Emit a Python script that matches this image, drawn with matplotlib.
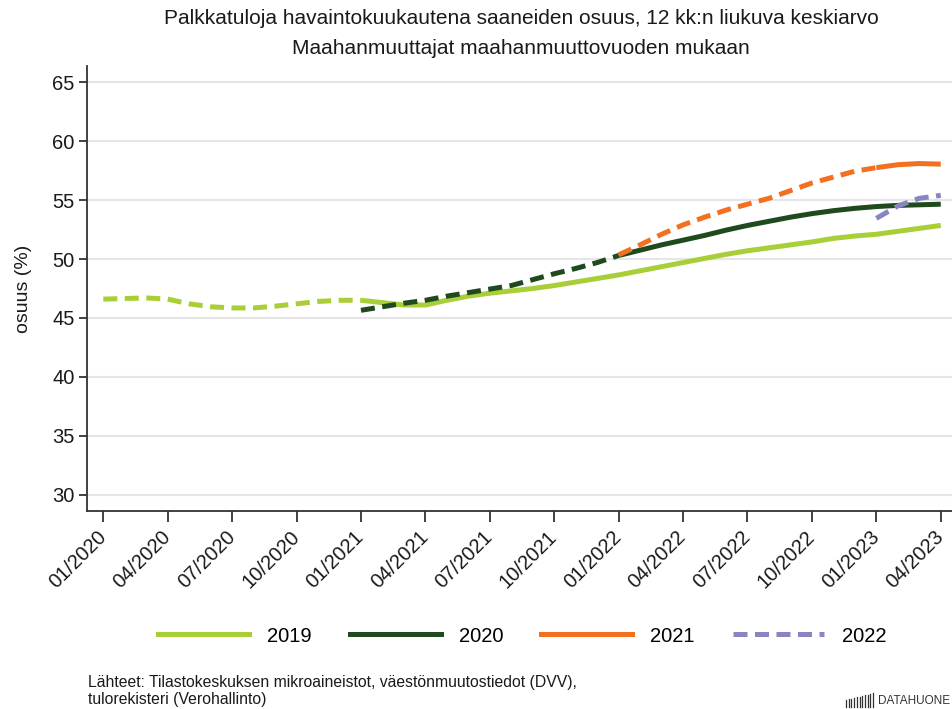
import numpy as np
import matplotlib
matplotlib.use("Agg")
import matplotlib.pyplot as plt
from matplotlib.lines import Line2D

plt.rcParams['font.family'] = ['Liberation Sans', 'DejaVu Sans']

# ---------------- data ----------------
months = [f"{m:02d}/{y}" for y in (2020, 2021, 2022, 2023) for m in range(1, 13)][:40]
tick_labels = months[::3]

N = None
s2019 = [46.6, 46.65, 46.7, 46.6, 46.2, 45.95, 45.85, 45.85, 46.0, 46.2, 46.4, 46.5,
         46.5, 46.3, 46.1, 46.1, 46.5, 46.85, 47.1, 47.3, 47.5, 47.75, 48.05, 48.35,
         48.65, 49.0, 49.35, 49.7, 50.05, 50.4, 50.7, 50.95, 51.2, 51.45, 51.75, 51.95,
         52.1, 52.35, 52.6, 52.85]
s2020 = [N] * 12 + [45.65, 45.95, 46.25, 46.5, 46.85, 47.15, 47.45, 47.75, 48.25, 48.75, 49.2, 49.7,
                    50.3, 50.75, 51.2, 51.6, 52.0, 52.45, 52.85, 53.2, 53.55, 53.85, 54.1, 54.3,
                    54.45, 54.55, 54.6, 54.65]
s2021 = [N] * 24 + [50.35, 51.2, 52.1, 52.9, 53.55, 54.15, 54.65, 55.15, 55.8, 56.45, 56.95, 57.45,
                    57.75, 58.0, 58.1, 58.05]
s2022 = [N] * 36 + [53.45, 54.5, 55.15, 55.4]

series = {"2019": s2019, "2020": s2020, "2021": s2021, "2022": s2022}
colors = {"2019": "#a8cf38", "2020": "#1f4a1d", "2021": "#f37021", "2022": "#8985c5"}

title1 = "Palkkatuloja havaintokuukautena saaneiden osuus, 12 kk:n liukuva keskiarvo"
title2 = "Maahanmuuttajat maahanmuuttovuoden mukaan"
ylabel = "osuus (%)"
source = "Lähteet: Tilastokeskuksen mikroaineistot, väestönmuutostiedot (DVV),\ntulorekisteri (Verohallinto)"

# ---------------- figure ----------------
fig = plt.figure(figsize=(9.53, 7.09), dpi=100)
ax = fig.add_axes([87.3 / 953, 1 - 511.3 / 709, 1 - 87.3 / 953, (511.3 - 65.7) / 709])

x = np.arange(len(months))
lw = 3.6
dash = (0, (2.8, 1.5))
for name, vals in series.items():
    v = np.array([np.nan if a is None else a for a in vals], dtype=float)
    valid = np.where(~np.isnan(v))[0]
    first = valid[0]
    split = min(first + 12, len(v) - 1)
    xd, vd = x[first:split + 1], v[first:split + 1]
    ax.plot(xd, vd, color=colors[name], lw=lw, linestyle=dash, dash_capstyle='butt',
            solid_capstyle='butt', zorder=3)
    if split < len(v) - 1:
        ax.plot(x[split:], v[split:], color=colors[name], lw=lw, solid_capstyle='butt', zorder=3)

ax.set_xlim(-0.745, 39.57)
ax.set_ylim(28.6, 66.4)
ax.set_yticks(np.arange(30, 66, 5))
ax.set_xticks(x[::3])
ax.set_xticklabels(tick_labels, rotation=45, ha='right', va='center', rotation_mode='anchor')
ax.tick_params(axis='both', labelsize=14.5, colors='#333333', labelcolor='#1a1a1a', width=1.3)
ax.tick_params(axis='y', length=6, pad=3)
ax.tick_params(axis='x', length=8, pad=8)
ax.yaxis.grid(True, color='#e6e6e6', lw=1.5)
ax.set_axisbelow(True)
for s in ('top', 'right'):
    ax.spines[s].set_visible(False)
for s in ('left', 'bottom'):
    ax.spines[s].set_color('#333333')
    ax.spines[s].set_linewidth(1.3)
ax.set_ylabel(ylabel, fontsize=14, color='#1a1a1a', labelpad=15)

fig.text(0.547, 1 - 19 / 709, title1, ha='center', va='center', fontsize=15, color='#1a1a1a')
fig.text(0.547, 1 - 48 / 709, title2, ha='center', va='center', fontsize=15, color='#1a1a1a')

handles = []
for name in series:
    ls = dash if name == "2022" else '-'
    handles.append(Line2D([], [], color=colors[name], lw=lw, linestyle=ls, dash_capstyle='butt'))
fig.legend(handles, list(series.keys()), loc='center', bbox_to_anchor=(0.548, 1 - 636 / 709),
           ncol=4, frameon=False, fontsize=14.5, handlelength=4.5, handletextpad=0.9,
           columnspacing=1.9)

fig.text(88 / 953, 1 - 691 / 709, source, ha='left', va='center', fontsize=11.3,
         color='#1a1a1a', linespacing=1.1)

# logo
fig.text(950 / 953, 1 - 701 / 709, "DATAHUONE", ha='right', va='center', fontsize=8.5,
         color='#333333')
bar_h = [7, 8, 8, 9, 10, 10, 11, 12, 12, 13, 14]
for i, h in enumerate(bar_h):
    x0 = (846 + i * 2.7) / 953
    fig.add_artist(Line2D([x0, x0], [1 - 707 / 709, 1 - (707 - h) / 709],
                          color='#333333', lw=0.9, transform=fig.transFigure))

fig.savefig("out.png", dpi=100)
